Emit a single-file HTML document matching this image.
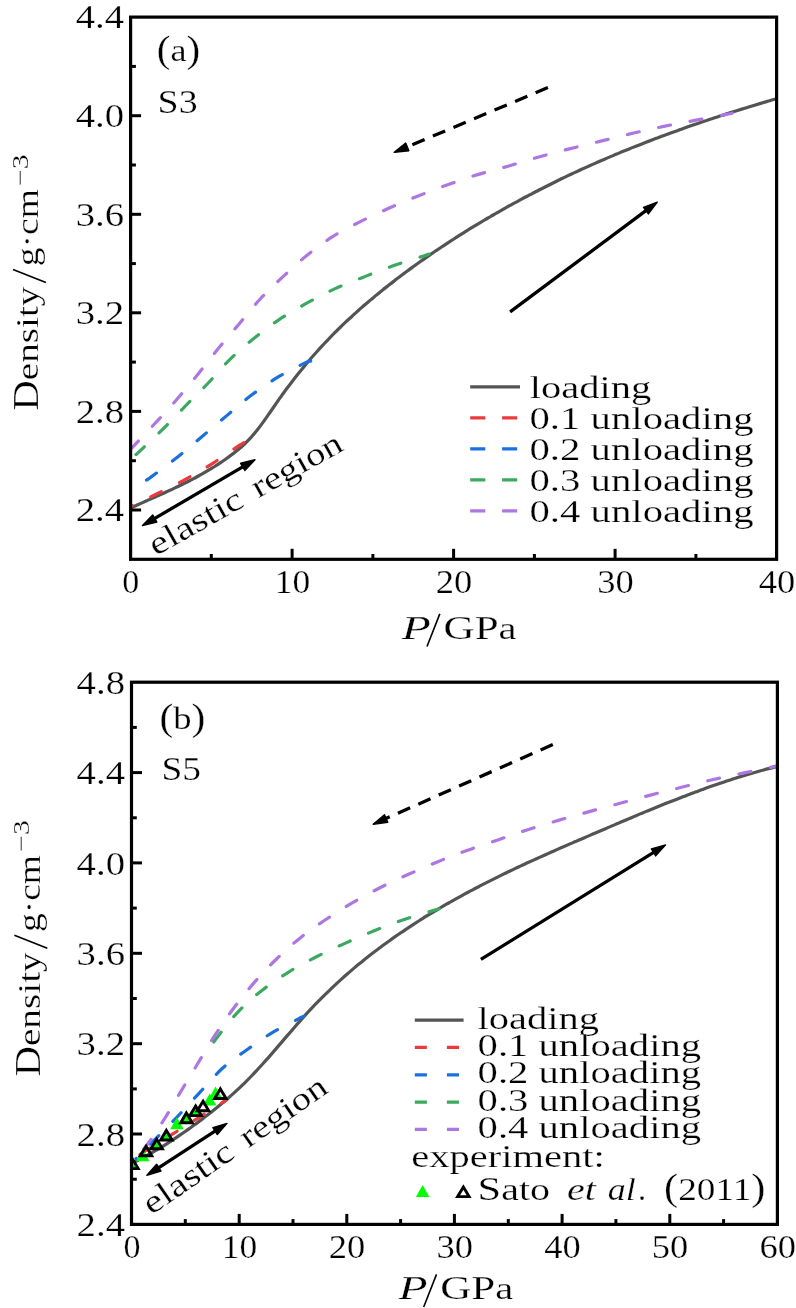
<!DOCTYPE html>
<html><head><meta charset="utf-8"><title>Density vs pressure</title>
<style>html,body{margin:0;padding:0;background:#fff}svg{display:block;will-change:transform}text{font-family:"Liberation Serif",serif;stroke:#fff;stroke-width:0.25px}</style>
</head><body>
<svg width="796" height="1308" viewBox="0 0 796 1308" font-family="'Liberation Serif', serif" fill="#000">
<rect width="796" height="1308" fill="#fff"/>
<g>
<path d="M130.6,508.0 C131.6,507.5 134.6,506.2 136.6,505.3 C138.6,504.4 140.6,503.5 142.6,502.6 C144.6,501.7 146.6,500.8 148.6,499.9 C150.6,499.0 152.6,498.2 154.6,497.3 C156.6,496.4 158.6,495.5 160.6,494.6 C162.6,493.7 164.6,492.8 166.6,491.8 C168.6,490.9 170.6,490.0 172.6,489.1 C174.6,488.1 176.6,487.2 178.6,486.2 C180.6,485.2 182.6,484.3 184.6,483.2 C186.6,482.2 188.6,481.2 190.6,480.2 C192.6,479.1 194.6,478.1 196.6,477.0 C198.6,475.9 200.6,474.8 202.6,473.7 C204.6,472.5 206.6,471.4 208.6,470.2 C210.6,469.0 212.6,467.7 214.6,466.5 C216.6,465.2 218.6,463.9 220.6,462.6 C222.6,461.3 224.6,459.9 226.6,458.5 C228.6,457.1 230.6,455.7 232.6,454.1 C234.6,452.6 236.6,451.0 238.6,449.3 C240.6,447.6 242.6,445.9 244.6,444.0 C246.6,442.0 248.6,440.0 250.6,437.9 C252.6,435.7 254.6,433.3 256.6,430.8 C258.6,428.3 260.6,425.7 262.6,422.9 C264.6,420.2 266.6,417.3 268.6,414.4 C270.6,411.5 272.6,408.5 274.6,405.7 C276.6,402.8 278.6,399.9 280.6,397.1 C282.6,394.3 284.6,391.5 286.6,388.8 C288.6,386.1 290.6,383.5 292.6,380.9 C294.6,378.3 296.6,375.8 298.6,373.3 C300.6,370.8 302.6,368.3 304.6,365.9 C306.6,363.5 308.6,361.1 310.6,358.8 C312.6,356.5 314.6,354.2 316.6,352.0 C318.6,349.8 320.6,347.6 322.6,345.4 C324.6,343.3 326.6,341.1 328.6,339.1 C330.6,337.0 332.6,334.9 334.6,332.9 C336.6,330.9 338.6,328.9 340.6,327.0 C342.6,325.0 344.6,323.1 346.6,321.2 C348.6,319.4 350.6,317.5 352.6,315.7 C354.6,313.8 356.6,312.1 358.6,310.3 C360.6,308.5 362.6,306.8 364.6,305.0 C366.6,303.3 368.6,301.6 370.6,299.9 C372.6,298.2 374.6,296.6 376.6,294.9 C378.6,293.3 380.6,291.7 382.6,290.1 C384.6,288.4 386.6,286.9 388.6,285.3 C390.6,283.7 392.6,282.1 394.6,280.6 C396.6,279.1 398.6,277.5 400.6,276.0 C402.6,274.5 404.6,273.0 406.6,271.5 C408.6,270.1 410.6,268.6 412.6,267.1 C414.6,265.7 416.6,264.2 418.6,262.8 C420.6,261.4 422.6,260.0 424.6,258.6 C426.6,257.2 428.6,255.8 430.6,254.4 C432.6,253.1 434.6,251.7 436.6,250.3 C438.6,249.0 440.6,247.7 442.6,246.3 C444.6,245.0 446.6,243.7 448.6,242.4 C450.6,241.1 452.6,239.8 454.6,238.5 C456.6,237.2 458.6,236.0 460.6,234.7 C462.6,233.4 464.6,232.2 466.6,230.9 C468.6,229.7 470.6,228.5 472.6,227.2 C474.6,226.0 476.6,224.8 478.6,223.6 C480.6,222.4 482.6,221.2 484.6,220.0 C486.6,218.8 488.6,217.7 490.6,216.5 C492.6,215.3 494.6,214.2 496.6,213.0 C498.6,211.9 500.6,210.7 502.6,209.6 C504.6,208.5 506.6,207.4 508.6,206.2 C510.6,205.1 512.6,204.0 514.6,202.9 C516.6,201.8 518.6,200.8 520.6,199.7 C522.6,198.6 524.6,197.5 526.6,196.5 C528.6,195.4 530.6,194.4 532.6,193.3 C534.6,192.3 536.6,191.2 538.6,190.2 C540.6,189.2 542.6,188.2 544.6,187.2 C546.6,186.2 548.6,185.2 550.6,184.2 C552.6,183.2 554.6,182.2 556.6,181.2 C558.6,180.2 560.6,179.3 562.6,178.3 C564.6,177.3 566.6,176.4 568.6,175.4 C570.6,174.5 572.6,173.5 574.6,172.6 C576.6,171.7 578.6,170.8 580.6,169.8 C582.6,168.9 584.6,168.0 586.6,167.1 C588.6,166.2 590.6,165.3 592.6,164.4 C594.6,163.5 596.6,162.7 598.6,161.8 C600.6,160.9 602.6,160.0 604.6,159.2 C606.6,158.3 608.6,157.5 610.6,156.6 C612.6,155.8 614.6,154.9 616.6,154.1 C618.6,153.3 620.6,152.4 622.6,151.6 C624.6,150.8 626.6,150.0 628.6,149.2 C630.6,148.3 632.6,147.5 634.6,146.8 C636.6,146.0 638.6,145.2 640.6,144.4 C642.6,143.6 644.6,142.8 646.6,142.0 C648.6,141.3 650.6,140.5 652.6,139.7 C654.6,139.0 656.6,138.2 658.6,137.5 C660.6,136.7 662.6,136.0 664.6,135.2 C666.6,134.5 668.6,133.8 670.6,133.0 C672.6,132.3 674.6,131.6 676.6,130.9 C678.6,130.2 680.6,129.4 682.6,128.7 C684.6,128.0 686.6,127.3 688.6,126.6 C690.6,125.9 692.6,125.2 694.6,124.5 C696.6,123.9 698.6,123.2 700.6,122.5 C702.6,121.8 704.6,121.1 706.6,120.5 C708.6,119.8 710.6,119.1 712.6,118.5 C714.6,117.8 716.6,117.2 718.6,116.5 C720.6,115.9 722.6,115.2 724.6,114.6 C726.6,113.9 728.6,113.3 730.6,112.6 C732.6,112.0 734.6,111.4 736.6,110.7 C738.6,110.1 740.6,109.5 742.6,108.9 C744.6,108.3 746.6,107.6 748.6,107.0 C750.6,106.4 752.6,105.8 754.6,105.2 C756.6,104.6 758.6,104.0 760.6,103.4 C762.6,102.8 764.6,102.2 766.6,101.6 C768.6,101.0 771.1,100.3 772.6,99.8 C774.1,99.4 775.2,99.1 775.7,98.9" fill="none" stroke="#545454" stroke-width="3.2" stroke-linejoin="round"/>
<path d="M243.8,442.7 C243.0,443.2 244.2,442.2 238.9,445.7 C233.6,449.2 221.0,458.2 212.0,463.8 C203.0,469.4 194.2,474.5 184.9,479.6 C175.6,484.7 164.9,489.8 156.0,494.2 C147.1,498.6 135.7,504.1 131.6,506.1" fill="none" stroke="#EA3A3E" stroke-width="3.2" stroke-dasharray="12.1 19.9" stroke-linecap="round" stroke-dashoffset="0.20"/>
<path d="M310.7,361.1 C309.7,361.4 310.2,360.3 304.6,363.1 C299.0,365.9 286.0,372.2 277.0,377.7 C268.0,383.1 259.0,389.5 250.6,395.8 C242.2,402.1 234.8,408.9 226.8,415.6 C218.8,422.3 210.7,429.2 202.4,436.2 C194.2,443.1 185.9,450.5 177.3,457.3 C168.7,464.1 156.1,473.3 150.9,477.1 C145.7,480.9 146.8,479.8 146.0,480.3" fill="none" stroke="#1C70DE" stroke-width="3.2" stroke-dasharray="12.1 19.9" stroke-linecap="round" stroke-dashoffset="0.45"/>
<path d="M429.0,254.1 C428.1,254.4 429.5,254.1 423.6,256.0 C417.7,257.9 403.6,262.1 393.7,265.6 C383.8,269.1 373.9,273.0 364.0,276.9 C354.1,280.8 344.2,284.5 334.6,288.9 C325.1,293.3 316.0,298.0 306.7,303.2 C297.4,308.4 287.5,314.1 278.8,319.9 C270.1,325.7 262.4,331.5 254.4,338.0 C246.3,344.5 238.1,351.4 230.5,358.8 C222.9,366.2 215.9,374.9 208.7,382.5 C201.5,390.1 194.7,396.6 187.2,404.2 C179.7,411.8 171.7,420.4 163.9,428.1 C156.1,435.8 145.2,445.9 140.6,450.3 C135.9,454.7 136.8,453.8 136.0,454.5" fill="none" stroke="#3CA960" stroke-width="3.2" stroke-dasharray="12.1 19.9" stroke-linecap="round" stroke-dashoffset="2.33"/>
<path d="M732.3,113.1 C731.3,113.3 732.7,113.2 726.5,114.4 C720.3,115.6 705.4,118.4 694.9,120.4 C684.4,122.4 674.1,124.2 663.7,126.4 C653.3,128.6 643.0,130.9 632.7,133.3 C622.4,135.7 612.2,138.4 601.8,140.9 C591.4,143.4 580.8,146.0 570.4,148.6 C560.0,151.2 550.0,153.8 539.7,156.7 C529.4,159.6 519.0,163.1 508.8,166.0 C498.6,168.9 488.6,171.3 478.4,174.4 C468.2,177.5 457.8,181.1 447.7,184.7 C437.6,188.3 427.9,192.1 418.1,196.0 C408.3,199.9 398.3,204.0 388.7,208.3 C379.1,212.6 369.6,216.9 360.3,221.6 C351.0,226.3 341.4,231.1 332.6,236.7 C323.8,242.3 315.6,248.4 307.4,255.0 C299.2,261.6 291.2,269.1 283.3,276.4 C275.4,283.7 267.5,291.1 260.2,299.0 C252.9,306.9 246.2,315.5 239.3,323.7 C232.4,331.9 225.5,339.7 218.7,348.0 C211.9,356.3 205.4,365.0 198.6,373.4 C191.8,381.8 184.8,390.3 177.8,398.3 C170.9,406.3 164.0,413.7 156.9,421.4 C149.8,429.1 139.2,440.1 135.0,444.6 C130.8,449.1 132.2,447.6 131.6,448.2" fill="none" stroke="#AE76E0" stroke-width="3.2" stroke-dasharray="12.1 19.9" stroke-linecap="round" stroke-dashoffset="1.05"/>
</g>
<rect x="130.6" y="17.1" width="646.0" height="542.2" fill="none" stroke="#000" stroke-width="3.2"/>
<line x1="292.1" y1="559.3" x2="292.1" y2="548.8" stroke="#000" stroke-width="3"/>
<line x1="453.6" y1="559.3" x2="453.6" y2="548.8" stroke="#000" stroke-width="3"/>
<line x1="615.1" y1="559.3" x2="615.1" y2="548.8" stroke="#000" stroke-width="3"/>
<line x1="211.3" y1="559.3" x2="211.3" y2="554.0" stroke="#000" stroke-width="3"/>
<line x1="372.9" y1="559.3" x2="372.9" y2="554.0" stroke="#000" stroke-width="3"/>
<line x1="534.4" y1="559.3" x2="534.4" y2="554.0" stroke="#000" stroke-width="3"/>
<line x1="695.9" y1="559.3" x2="695.9" y2="554.0" stroke="#000" stroke-width="3"/>
<line x1="130.6" y1="510.0" x2="141.1" y2="510.0" stroke="#000" stroke-width="3"/>
<line x1="130.6" y1="411.4" x2="141.1" y2="411.4" stroke="#000" stroke-width="3"/>
<line x1="130.6" y1="312.8" x2="141.1" y2="312.8" stroke="#000" stroke-width="3"/>
<line x1="130.6" y1="214.3" x2="141.1" y2="214.3" stroke="#000" stroke-width="3"/>
<line x1="130.6" y1="115.7" x2="141.1" y2="115.7" stroke="#000" stroke-width="3"/>
<line x1="130.6" y1="460.7" x2="135.9" y2="460.7" stroke="#000" stroke-width="3"/>
<line x1="130.6" y1="362.1" x2="135.9" y2="362.1" stroke="#000" stroke-width="3"/>
<line x1="130.6" y1="263.6" x2="135.9" y2="263.6" stroke="#000" stroke-width="3"/>
<line x1="130.6" y1="165.0" x2="135.9" y2="165.0" stroke="#000" stroke-width="3"/>
<line x1="130.6" y1="66.4" x2="135.9" y2="66.4" stroke="#000" stroke-width="3"/>
<text x="124.1" y="28.4" font-size="34" text-anchor="end" textLength="48.4" lengthAdjust="spacingAndGlyphs">4.4</text>
<text x="124.1" y="127.0" font-size="34" text-anchor="end" textLength="48.4" lengthAdjust="spacingAndGlyphs">4.0</text>
<text x="124.1" y="225.6" font-size="34" text-anchor="end" textLength="48.4" lengthAdjust="spacingAndGlyphs">3.6</text>
<text x="124.1" y="324.1" font-size="34" text-anchor="end" textLength="48.4" lengthAdjust="spacingAndGlyphs">3.2</text>
<text x="124.1" y="422.7" font-size="34" text-anchor="end" textLength="48.4" lengthAdjust="spacingAndGlyphs">2.8</text>
<text x="124.1" y="521.3" font-size="34" text-anchor="end" textLength="48.4" lengthAdjust="spacingAndGlyphs">2.4</text>
<text x="130.7" y="593.3" font-size="34" text-anchor="middle" textLength="17.0" lengthAdjust="spacingAndGlyphs">0</text>
<text x="292.4" y="593.3" font-size="34" text-anchor="middle" textLength="35.5" lengthAdjust="spacingAndGlyphs">10</text>
<text x="453.9" y="593.3" font-size="34" text-anchor="middle" textLength="36.5" lengthAdjust="spacingAndGlyphs">20</text>
<text x="615.4" y="593.3" font-size="34" text-anchor="middle" textLength="36.5" lengthAdjust="spacingAndGlyphs">30</text>
<text x="776.9" y="593.3" font-size="34" text-anchor="middle" textLength="36.5" lengthAdjust="spacingAndGlyphs">40</text>
<text x="401.8" y="638.9" font-size="33.5" text-anchor="start" textLength="29.0" lengthAdjust="spacingAndGlyphs" stroke="#fff" stroke-width="0.7" style="font-style:italic">P</text>
<line x1="427.0" y1="646.5" x2="439.8" y2="613.9" stroke="#000" stroke-width="1.6"/>
<text x="443.6" y="638.9" font-size="32.5" text-anchor="start" textLength="73.0" lengthAdjust="spacingAndGlyphs"><tspan font-size="34.5">GP</tspan>a</text>
<g transform="translate(38.1,410.8) rotate(-90)">
<text x="0.0" y="0.0" font-size="32.5" text-anchor="start" textLength="124.3" lengthAdjust="spacingAndGlyphs"><tspan font-size="35">D</tspan>ensity</text>
<line x1="128.4" y1="7.8" x2="141.4" y2="-25.1" stroke="#000" stroke-width="1.6"/>
<text x="144.6" y="0.0" font-size="32.5" text-anchor="start" textLength="77.0" lengthAdjust="spacingAndGlyphs">g·cm</text>
<text x="224.8" y="-10.4" font-size="24" text-anchor="start" textLength="31.5" lengthAdjust="spacingAndGlyphs">−3</text>
</g>
<text x="156.8" y="61.3" font-size="32.5" textLength="43.5" lengthAdjust="spacingAndGlyphs"><tspan font-size="37" dy="0.8">(</tspan><tspan dy="-0.8">a</tspan><tspan font-size="37" dy="0.8">)</tspan></text>
<text x="157.6" y="112.8" font-size="34.5" text-anchor="start" textLength="40.0" lengthAdjust="spacingAndGlyphs">S3</text>
<line x1="470.2" y1="386.8" x2="520.0" y2="386.8" stroke="#545454" stroke-width="3.2"/>
<line x1="470.2" y1="417.8" x2="520.0" y2="417.8" stroke="#EA3A3E" stroke-width="3.2" stroke-dasharray="15.1 16.8"/>
<line x1="470.2" y1="448.8" x2="520.0" y2="448.8" stroke="#1C70DE" stroke-width="3.2" stroke-dasharray="15.1 16.8"/>
<line x1="470.2" y1="479.8" x2="520.0" y2="479.8" stroke="#3CA960" stroke-width="3.2" stroke-dasharray="15.1 16.8"/>
<line x1="470.2" y1="510.8" x2="520.0" y2="510.8" stroke="#AE76E0" stroke-width="3.2" stroke-dasharray="15.1 16.8"/>
<text x="529.8" y="398.4" font-size="32.5" text-anchor="start" textLength="121.5" lengthAdjust="spacingAndGlyphs">loading</text>
<text x="529.5" y="429.2" font-size="32.5" text-anchor="start" textLength="224.0" lengthAdjust="spacingAndGlyphs">0.1 unloading</text>
<text x="529.5" y="460.2" font-size="32.5" text-anchor="start" textLength="224.0" lengthAdjust="spacingAndGlyphs">0.2 unloading</text>
<text x="529.5" y="491.2" font-size="32.5" text-anchor="start" textLength="224.0" lengthAdjust="spacingAndGlyphs">0.3 unloading</text>
<text x="529.5" y="522.2" font-size="32.5" text-anchor="start" textLength="224.0" lengthAdjust="spacingAndGlyphs">0.4 unloading</text>
<line x1="547.9" y1="87.6" x2="402.3" y2="149.0" stroke="#000" stroke-width="3.3" stroke-dasharray="13.3 9"/>
<polygon points="394.2,152.4 405.7,143.1 408.9,150.7" fill="#000" stroke="#000" stroke-width="1.4" stroke-linejoin="round"/>
<line x1="510.1" y1="311.9" x2="650.3" y2="207.4" stroke="#000" stroke-width="3.3"/>
<polygon points="657.3,202.1 648.4,213.9 643.5,207.3" fill="#000" stroke="#000" stroke-width="1.4" stroke-linejoin="round"/>
<line x1="150.1" y1="521.1" x2="247.4" y2="464.2" stroke="#000" stroke-width="3.3"/>
<polygon points="255.0,459.7 244.8,470.4 240.6,463.3" fill="#000" stroke="#000" stroke-width="1.4" stroke-linejoin="round"/>
<polygon points="142.5,525.6 152.7,514.9 156.9,522.0" fill="#000" stroke="#000" stroke-width="1.4" stroke-linejoin="round"/>
<g transform="translate(155.8,556.2) rotate(-29.4)">
<text x="0.0" y="0.0" font-size="32.5" text-anchor="start" textLength="103.0" lengthAdjust="spacingAndGlyphs">elastic</text>
<text x="117.6" y="0.0" font-size="32.5" text-anchor="start" textLength="99.4" lengthAdjust="spacingAndGlyphs">region</text>
</g>
<g>
<path d="M131.5,1163.4 C132.5,1162.9 135.5,1161.5 137.5,1160.5 C139.5,1159.5 141.5,1158.4 143.5,1157.4 C145.5,1156.3 147.5,1155.2 149.5,1154.1 C151.5,1153.0 153.5,1151.8 155.5,1150.7 C157.5,1149.5 159.5,1148.3 161.5,1147.1 C163.5,1145.9 165.5,1144.6 167.5,1143.3 C169.5,1142.1 171.5,1140.8 173.5,1139.4 C175.5,1138.1 177.5,1136.8 179.5,1135.4 C181.5,1134.1 183.5,1132.7 185.5,1131.3 C187.5,1129.9 189.5,1128.4 191.5,1127.0 C193.5,1125.5 195.5,1124.1 197.5,1122.6 C199.5,1121.1 201.5,1119.6 203.5,1118.1 C205.5,1116.6 207.5,1115.0 209.5,1113.5 C211.5,1111.9 213.5,1110.3 215.5,1108.7 C217.5,1107.1 219.5,1105.5 221.5,1103.8 C223.5,1102.2 225.5,1100.5 227.5,1098.7 C229.5,1097.0 231.5,1095.2 233.5,1093.4 C235.5,1091.6 237.5,1089.8 239.5,1087.9 C241.5,1086.0 243.5,1084.1 245.5,1082.1 C247.5,1080.1 249.5,1078.1 251.5,1076.0 C253.5,1073.9 255.5,1071.8 257.5,1069.6 C259.5,1067.5 261.5,1065.2 263.5,1063.0 C265.5,1060.8 267.5,1058.5 269.5,1056.3 C271.5,1054.0 273.5,1051.7 275.5,1049.4 C277.5,1047.1 279.5,1044.7 281.5,1042.4 C283.5,1040.1 285.5,1037.7 287.5,1035.4 C289.5,1033.1 291.5,1030.8 293.5,1028.4 C295.5,1026.1 297.5,1023.8 299.5,1021.6 C301.5,1019.3 303.5,1017.1 305.5,1014.9 C307.5,1012.7 309.5,1010.5 311.5,1008.4 C313.5,1006.3 315.5,1004.2 317.5,1002.2 C319.5,1000.1 321.5,998.1 323.5,996.1 C325.5,994.1 327.5,992.2 329.5,990.3 C331.5,988.3 333.5,986.4 335.5,984.6 C337.5,982.7 339.5,980.9 341.5,979.1 C343.5,977.3 345.5,975.5 347.5,973.8 C349.5,972.0 351.5,970.3 353.5,968.6 C355.5,966.9 357.5,965.2 359.5,963.6 C361.5,962.0 363.5,960.3 365.5,958.7 C367.5,957.2 369.5,955.6 371.5,954.0 C373.5,952.5 375.5,951.0 377.5,949.5 C379.5,947.9 381.5,946.5 383.5,945.0 C385.5,943.5 387.5,942.1 389.5,940.7 C391.5,939.2 393.5,937.8 395.5,936.4 C397.5,935.1 399.5,933.7 401.5,932.3 C403.5,931.0 405.5,929.6 407.5,928.3 C409.5,927.0 411.5,925.7 413.5,924.4 C415.5,923.1 417.5,921.8 419.5,920.5 C421.5,919.2 423.5,918.0 425.5,916.7 C427.5,915.5 429.5,914.3 431.5,913.1 C433.5,911.8 435.5,910.6 437.5,909.5 C439.5,908.3 441.5,907.1 443.5,905.9 C445.5,904.8 447.5,903.6 449.5,902.5 C451.5,901.3 453.5,900.2 455.5,899.1 C457.5,898.0 459.5,896.9 461.5,895.8 C463.5,894.7 465.5,893.6 467.5,892.5 C469.5,891.4 471.5,890.4 473.5,889.3 C475.5,888.3 477.5,887.2 479.5,886.2 C481.5,885.1 483.5,884.1 485.5,883.1 C487.5,882.1 489.5,881.1 491.5,880.1 C493.5,879.1 495.5,878.1 497.5,877.1 C499.5,876.1 501.5,875.1 503.5,874.1 C505.5,873.2 507.5,872.2 509.5,871.3 C511.5,870.3 513.5,869.3 515.5,868.4 C517.5,867.5 519.5,866.5 521.5,865.6 C523.5,864.7 525.5,863.7 527.5,862.8 C529.5,861.9 531.5,861.0 533.5,860.1 C535.5,859.2 537.5,858.3 539.5,857.4 C541.5,856.5 543.5,855.6 545.5,854.7 C547.5,853.8 549.5,852.9 551.5,852.0 C553.5,851.1 555.5,850.3 557.5,849.4 C559.5,848.5 561.5,847.6 563.5,846.8 C565.5,845.9 567.5,845.0 569.5,844.1 C571.5,843.3 573.5,842.4 575.5,841.6 C577.5,840.7 579.5,839.8 581.5,839.0 C583.5,838.1 585.5,837.3 587.5,836.4 C589.5,835.5 591.5,834.7 593.5,833.8 C595.5,833.0 597.5,832.1 599.5,831.2 C601.5,830.4 603.5,829.5 605.5,828.7 C607.5,827.8 609.5,827.0 611.5,826.1 C613.5,825.3 615.5,824.4 617.5,823.6 C619.5,822.7 621.5,821.8 623.5,821.0 C625.5,820.2 627.5,819.3 629.5,818.5 C631.5,817.6 633.5,816.8 635.5,815.9 C637.5,815.1 639.5,814.3 641.5,813.4 C643.5,812.6 645.5,811.8 647.5,810.9 C649.5,810.1 651.5,809.3 653.5,808.5 C655.5,807.7 657.5,806.8 659.5,806.0 C661.5,805.2 663.5,804.4 665.5,803.6 C667.5,802.8 669.5,802.0 671.5,801.2 C673.5,800.4 675.5,799.6 677.5,798.9 C679.5,798.1 681.5,797.3 683.5,796.5 C685.5,795.8 687.5,795.0 689.5,794.3 C691.5,793.5 693.5,792.7 695.5,792.0 C697.5,791.3 699.5,790.5 701.5,789.8 C703.5,789.1 705.5,788.3 707.5,787.6 C709.5,786.9 711.5,786.2 713.5,785.5 C715.5,784.8 717.5,784.1 719.5,783.4 C721.5,782.8 723.5,782.1 725.5,781.4 C727.5,780.8 729.5,780.1 731.5,779.5 C733.5,778.8 735.5,778.2 737.5,777.5 C739.5,776.9 741.5,776.3 743.5,775.7 C745.5,775.1 747.5,774.5 749.5,773.9 C751.5,773.3 753.5,772.7 755.5,772.2 C757.5,771.6 759.5,771.0 761.5,770.5 C763.5,770.0 765.5,769.4 767.5,768.9 C769.5,768.4 772.0,767.8 773.5,767.4 C775.0,767.0 776.2,766.7 776.7,766.6" fill="none" stroke="#545454" stroke-width="3.2" stroke-linejoin="round"/>
<path d="M226.6,1099.8 C225.9,1100.2 227.5,1099.3 222.6,1102.4 C217.7,1105.5 205.5,1113.4 197.3,1118.6 C189.1,1123.8 181.1,1128.8 173.2,1133.7 C165.2,1138.6 156.4,1143.9 149.6,1148.2 C142.8,1152.5 135.4,1157.8 132.6,1159.7" fill="none" stroke="#EA3A3E" stroke-width="3.2" stroke-dasharray="12.1 19.9" stroke-linecap="round" stroke-dashoffset="5.46"/>
<path d="M304.0,1016.3 C303.1,1016.7 304.3,1015.8 298.9,1018.6 C293.5,1021.4 280.4,1027.8 271.5,1033.1 C262.6,1038.4 253.7,1044.9 245.6,1050.7 C237.5,1056.5 230.8,1060.6 223.0,1067.8 C215.2,1075.0 206.2,1085.5 198.5,1093.8 C190.8,1102.1 183.8,1109.9 176.6,1117.5 C169.3,1125.1 161.8,1132.7 155.0,1139.5 C148.2,1146.3 139.2,1155.4 136.0,1158.6" fill="none" stroke="#1C70DE" stroke-width="3.2" stroke-dasharray="12.1 19.9" stroke-linecap="round" stroke-dashoffset="2.39"/>
<path d="M439.2,908.8 C438.3,909.1 439.8,908.6 433.9,910.4 C427.9,912.2 413.6,916.3 403.5,919.7 C393.4,923.1 383.5,927.0 373.6,931.0 C363.8,935.0 354.0,939.3 344.4,943.6 C334.8,947.9 325.4,952.2 316.0,957.0 C306.6,961.8 297.3,966.7 288.3,972.3 C279.3,977.9 270.3,983.8 261.9,990.4 C253.5,997.0 245.5,1004.0 238.1,1011.8 C230.7,1019.5 221.6,1031.8 217.5,1036.9 C213.4,1042.0 214.2,1041.6 213.6,1042.6" fill="none" stroke="#3CA960" stroke-width="3.2" stroke-dasharray="12.1 19.9" stroke-linecap="round" stroke-dashoffset="1.27"/>
<path d="M777.4,765.9 C771.8,767.1 754.7,770.6 743.9,772.9 C733.1,775.2 722.8,777.3 712.4,779.7 C702.0,782.1 691.8,784.7 681.5,787.3 C671.2,789.9 660.7,792.4 650.5,795.1 C640.3,797.8 630.3,800.5 620.1,803.3 C609.9,806.0 599.5,808.8 589.2,811.6 C578.9,814.5 568.5,817.4 558.3,820.4 C548.0,823.4 537.7,826.5 527.7,829.7 C517.8,832.9 508.7,836.2 498.6,839.7 C488.5,843.2 477.2,846.7 467.0,850.4 C456.8,854.1 447.1,857.9 437.4,861.9 C427.6,865.9 418.1,870.0 408.5,874.3 C398.9,878.6 389.4,882.9 380.0,887.7 C370.6,892.5 361.3,897.5 352.2,902.9 C343.1,908.3 333.9,914.1 325.1,920.0 C316.3,925.9 307.7,931.9 299.6,938.4 C291.5,944.9 284.1,951.6 276.5,959.0 C268.9,966.4 261.0,974.7 253.9,982.9 C246.8,991.1 240.3,999.3 233.8,1008.0 C227.3,1016.7 221.0,1026.0 215.0,1035.2 C209.0,1044.4 203.5,1054.0 197.9,1063.3 C192.3,1072.6 186.7,1081.7 181.2,1090.8 C175.7,1099.9 170.2,1109.7 165.0,1118.0 C159.8,1126.3 155.1,1133.8 150.3,1140.5 C145.5,1147.2 138.4,1155.1 136.0,1158.0" fill="none" stroke="#AE76E0" stroke-width="3.2" stroke-dasharray="12.1 19.9" stroke-linecap="round" stroke-dashoffset="4.89"/>
</g>
<clipPath id="cb"><rect x="131.5" y="682.2" width="645.9" height="542.2"/></clipPath>
<g clip-path="url(#cb)">
<polygon points="132.5,1157.5 125.8,1169.5 139.2,1169.5" fill="#00FF00"/>
<polygon points="142.8,1149.3 136.1,1161.3 149.6,1161.3" fill="#00FF00"/>
<polygon points="156.5,1137.5 149.8,1149.5 163.2,1149.5" fill="#00FF00"/>
<polygon points="166.3,1129.0 159.6,1141.0 173.1,1141.0" fill="#00FF00"/>
<polygon points="176.9,1117.2 170.2,1129.2 183.7,1129.2" fill="#00FF00"/>
<polygon points="186.3,1110.3 179.6,1122.3 193.1,1122.3" fill="#00FF00"/>
<polygon points="195.5,1103.5 188.8,1115.5 202.2,1115.5" fill="#00FF00"/>
<polygon points="209.7,1093.6 202.9,1105.6 216.4,1105.6" fill="#00FF00"/>
<polygon points="215.5,1086.4 208.8,1098.4 222.2,1098.4" fill="#00FF00"/>
<polygon points="132.5,1159.0 126.8,1168.6 138.2,1168.6" fill="none" stroke="#000" stroke-width="2.9"/>
<polygon points="146.1,1146.2 140.3,1155.8 151.8,1155.8" fill="none" stroke="#000" stroke-width="2.9"/>
<polygon points="156.7,1139.2 150.9,1148.8 162.4,1148.8" fill="none" stroke="#000" stroke-width="2.9"/>
<polygon points="166.3,1130.4 160.6,1140.0 172.1,1140.0" fill="none" stroke="#000" stroke-width="2.9"/>
<polygon points="186.4,1113.1 180.7,1122.7 192.2,1122.7" fill="none" stroke="#000" stroke-width="2.9"/>
<polygon points="195.7,1106.0 189.9,1115.6 201.4,1115.6" fill="none" stroke="#000" stroke-width="2.9"/>
<polygon points="203.1,1101.2 197.3,1110.8 208.8,1110.8" fill="none" stroke="#000" stroke-width="2.9"/>
<polygon points="220.3,1088.9 214.6,1098.5 226.1,1098.5" fill="none" stroke="#000" stroke-width="2.9"/>
</g>
<rect x="131.5" y="682.2" width="645.9" height="542.2" fill="none" stroke="#000" stroke-width="3.2"/>
<line x1="239.2" y1="1224.4" x2="239.2" y2="1213.9" stroke="#000" stroke-width="3"/>
<line x1="346.8" y1="1224.4" x2="346.8" y2="1213.9" stroke="#000" stroke-width="3"/>
<line x1="454.4" y1="1224.4" x2="454.4" y2="1213.9" stroke="#000" stroke-width="3"/>
<line x1="562.1" y1="1224.4" x2="562.1" y2="1213.9" stroke="#000" stroke-width="3"/>
<line x1="669.8" y1="1224.4" x2="669.8" y2="1213.9" stroke="#000" stroke-width="3"/>
<line x1="185.3" y1="1224.4" x2="185.3" y2="1219.1" stroke="#000" stroke-width="3"/>
<line x1="293.0" y1="1224.4" x2="293.0" y2="1219.1" stroke="#000" stroke-width="3"/>
<line x1="400.6" y1="1224.4" x2="400.6" y2="1219.1" stroke="#000" stroke-width="3"/>
<line x1="508.3" y1="1224.4" x2="508.3" y2="1219.1" stroke="#000" stroke-width="3"/>
<line x1="615.9" y1="1224.4" x2="615.9" y2="1219.1" stroke="#000" stroke-width="3"/>
<line x1="723.6" y1="1224.4" x2="723.6" y2="1219.1" stroke="#000" stroke-width="3"/>
<line x1="131.5" y1="1134.0" x2="142.0" y2="1134.0" stroke="#000" stroke-width="3"/>
<line x1="131.5" y1="1043.7" x2="142.0" y2="1043.7" stroke="#000" stroke-width="3"/>
<line x1="131.5" y1="953.3" x2="142.0" y2="953.3" stroke="#000" stroke-width="3"/>
<line x1="131.5" y1="862.9" x2="142.0" y2="862.9" stroke="#000" stroke-width="3"/>
<line x1="131.5" y1="772.6" x2="142.0" y2="772.6" stroke="#000" stroke-width="3"/>
<line x1="131.5" y1="1179.2" x2="136.8" y2="1179.2" stroke="#000" stroke-width="3"/>
<line x1="131.5" y1="1088.9" x2="136.8" y2="1088.9" stroke="#000" stroke-width="3"/>
<line x1="131.5" y1="998.5" x2="136.8" y2="998.5" stroke="#000" stroke-width="3"/>
<line x1="131.5" y1="908.1" x2="136.8" y2="908.1" stroke="#000" stroke-width="3"/>
<line x1="131.5" y1="817.8" x2="136.8" y2="817.8" stroke="#000" stroke-width="3"/>
<line x1="131.5" y1="727.4" x2="136.8" y2="727.4" stroke="#000" stroke-width="3"/>
<text x="125.0" y="693.8" font-size="34" text-anchor="end" textLength="48.4" lengthAdjust="spacingAndGlyphs">4.8</text>
<text x="125.0" y="784.2" font-size="34" text-anchor="end" textLength="48.4" lengthAdjust="spacingAndGlyphs">4.4</text>
<text x="125.0" y="874.5" font-size="34" text-anchor="end" textLength="48.4" lengthAdjust="spacingAndGlyphs">4.0</text>
<text x="125.0" y="964.9" font-size="34" text-anchor="end" textLength="48.4" lengthAdjust="spacingAndGlyphs">3.6</text>
<text x="125.0" y="1055.3" font-size="34" text-anchor="end" textLength="48.4" lengthAdjust="spacingAndGlyphs">3.2</text>
<text x="125.0" y="1145.6" font-size="34" text-anchor="end" textLength="48.4" lengthAdjust="spacingAndGlyphs">2.8</text>
<text x="125.0" y="1236.0" font-size="34" text-anchor="end" textLength="48.4" lengthAdjust="spacingAndGlyphs">2.4</text>
<text x="132.1" y="1258.0" font-size="34" text-anchor="middle" textLength="17.0" lengthAdjust="spacingAndGlyphs">0</text>
<text x="239.5" y="1258.0" font-size="34" text-anchor="middle" textLength="35.5" lengthAdjust="spacingAndGlyphs">10</text>
<text x="347.1" y="1258.0" font-size="34" text-anchor="middle" textLength="36.5" lengthAdjust="spacingAndGlyphs">20</text>
<text x="454.8" y="1258.0" font-size="34" text-anchor="middle" textLength="36.5" lengthAdjust="spacingAndGlyphs">30</text>
<text x="562.4" y="1258.0" font-size="34" text-anchor="middle" textLength="36.5" lengthAdjust="spacingAndGlyphs">40</text>
<text x="670.0" y="1258.0" font-size="34" text-anchor="middle" textLength="36.5" lengthAdjust="spacingAndGlyphs">50</text>
<text x="777.7" y="1258.0" font-size="34" text-anchor="middle" textLength="36.5" lengthAdjust="spacingAndGlyphs">60</text>
<text x="398.5" y="1299.4" font-size="33.5" text-anchor="start" textLength="29.0" lengthAdjust="spacingAndGlyphs" stroke="#fff" stroke-width="0.7" style="font-style:italic">P</text>
<line x1="423.7" y1="1307.0" x2="436.5" y2="1274.4" stroke="#000" stroke-width="1.6"/>
<text x="440.3" y="1299.4" font-size="32.5" text-anchor="start" textLength="73.0" lengthAdjust="spacingAndGlyphs"><tspan font-size="34.5">GP</tspan>a</text>
<g transform="translate(39.5,1076.6) rotate(-90)">
<text x="0.0" y="0.0" font-size="32.5" text-anchor="start" textLength="124.3" lengthAdjust="spacingAndGlyphs"><tspan font-size="35">D</tspan>ensity</text>
<line x1="128.4" y1="7.8" x2="141.4" y2="-25.1" stroke="#000" stroke-width="1.6"/>
<text x="144.6" y="0.0" font-size="32.5" text-anchor="start" textLength="77.0" lengthAdjust="spacingAndGlyphs">g·cm</text>
<text x="224.8" y="-10.4" font-size="24" text-anchor="start" textLength="31.5" lengthAdjust="spacingAndGlyphs">−3</text>
</g>
<text x="159.5" y="729.0" font-size="32.5" textLength="46" lengthAdjust="spacingAndGlyphs"><tspan font-size="37" dy="0.8">(</tspan><tspan dy="-0.8">b</tspan><tspan font-size="37" dy="0.8">)</tspan></text>
<text x="161.4" y="779.8" font-size="34.5" text-anchor="start" textLength="39.5" lengthAdjust="spacingAndGlyphs">S5</text>
<line x1="414.8" y1="1020.2" x2="463.6" y2="1020.2" stroke="#545454" stroke-width="3.2"/>
<line x1="414.8" y1="1047.4" x2="463.6" y2="1047.4" stroke="#EA3A3E" stroke-width="3.2" stroke-dasharray="12.1 20"/>
<line x1="414.8" y1="1074.8" x2="463.6" y2="1074.8" stroke="#1C70DE" stroke-width="3.2" stroke-dasharray="12.1 20"/>
<line x1="414.8" y1="1102.1" x2="463.6" y2="1102.1" stroke="#3CA960" stroke-width="3.2" stroke-dasharray="12.1 20"/>
<line x1="414.8" y1="1129.4" x2="463.6" y2="1129.4" stroke="#AE76E0" stroke-width="3.2" stroke-dasharray="12.1 20"/>
<text x="477.6" y="1028.5" font-size="32.5" text-anchor="start" textLength="121.5" lengthAdjust="spacingAndGlyphs">loading</text>
<text x="477.6" y="1056.0" font-size="32.5" text-anchor="start" textLength="223.5" lengthAdjust="spacingAndGlyphs">0.1 unloading</text>
<text x="477.6" y="1083.4" font-size="32.5" text-anchor="start" textLength="223.5" lengthAdjust="spacingAndGlyphs">0.2 unloading</text>
<text x="477.6" y="1110.7" font-size="32.5" text-anchor="start" textLength="223.5" lengthAdjust="spacingAndGlyphs">0.3 unloading</text>
<text x="477.6" y="1138.0" font-size="32.5" text-anchor="start" textLength="223.5" lengthAdjust="spacingAndGlyphs">0.4 unloading</text>
<text x="411.3" y="1166.5" font-size="32.5" text-anchor="start" textLength="193.5" lengthAdjust="spacingAndGlyphs">experiment:</text>
<text x="477.6" y="1199.6" font-size="32.5" text-anchor="start" textLength="72.5" lengthAdjust="spacingAndGlyphs"><tspan font-size="34.5">S</tspan>ato</text>
<text x="567.0" y="1199.6" font-size="32.5" text-anchor="start" textLength="29.0" lengthAdjust="spacingAndGlyphs" style="font-style:italic">et</text>
<text x="607.8" y="1199.6" font-size="32.5" text-anchor="start" textLength="28.0" lengthAdjust="spacingAndGlyphs" style="font-style:italic">al</text>
<text x="638.0" y="1199.6" font-size="32.5" text-anchor="start" textLength="8.0" lengthAdjust="spacingAndGlyphs">.</text>
<text x="664" y="1199.6" font-size="32.5" textLength="101.5" lengthAdjust="spacingAndGlyphs"><tspan font-size="37" dy="0.8">(</tspan><tspan dy="-0.8">2011</tspan><tspan font-size="37" dy="0.8">)</tspan></text>
<polygon points="422.6,1185.1 415.9,1197.1 429.4,1197.1" fill="#00FF00"/>
<polygon points="463.4,1187.0 457.6,1196.6 469.1,1196.6" fill="none" stroke="#000" stroke-width="2.9"/>
<line x1="552.8" y1="744.5" x2="381.2" y2="820.6" stroke="#000" stroke-width="3.3" stroke-dasharray="13.3 9"/>
<polygon points="373.2,824.2 384.5,814.7 387.8,822.2" fill="#000" stroke="#000" stroke-width="1.4" stroke-linejoin="round"/>
<line x1="480.9" y1="959.4" x2="658.1" y2="849.6" stroke="#000" stroke-width="3.3"/>
<polygon points="665.6,844.9 655.7,855.9 651.4,848.9" fill="#000" stroke="#000" stroke-width="1.4" stroke-linejoin="round"/>
<line x1="154.3" y1="1170.6" x2="219.6" y2="1128.1" stroke="#000" stroke-width="3.3"/>
<polygon points="227.0,1123.4 217.3,1134.5 212.9,1127.6" fill="#000" stroke="#000" stroke-width="1.4" stroke-linejoin="round"/>
<polygon points="146.9,1175.3 156.6,1164.2 161.0,1171.1" fill="#000" stroke="#000" stroke-width="1.4" stroke-linejoin="round"/>
<g transform="translate(151.6,1215.5) rotate(-34.8)">
<text x="0.0" y="0.0" font-size="32.5" text-anchor="start" textLength="103.0" lengthAdjust="spacingAndGlyphs">elastic</text>
<text x="117.6" y="0.0" font-size="32.5" text-anchor="start" textLength="99.4" lengthAdjust="spacingAndGlyphs">region</text>
</g>
</svg>
</body></html>
